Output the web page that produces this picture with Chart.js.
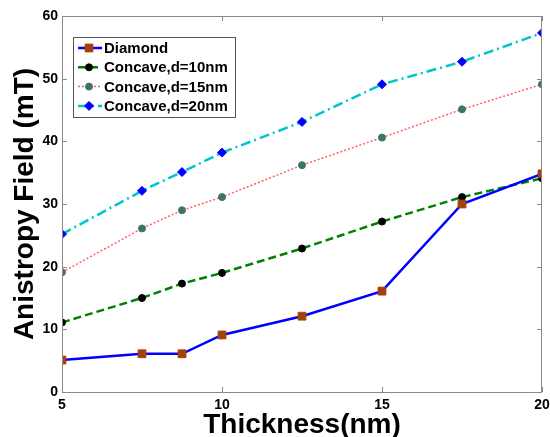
<!DOCTYPE html>
<html>
<head>
<meta charset="utf-8">
<script src="https://cdn.jsdelivr.net/npm/chart.js@4"></script>
<style>
  html, body { margin: 0; padding: 0; background: #fff; }
  canvas { display: block; }
</style>
</head>
<body>
<canvas id="chart" width="550" height="437"></canvas>
<script>
const thickness = [5, 7.5, 8.75, 10, 12.5, 15, 17.5, 20];
const diamond = [5.1, 6.1, 6.1, 9.1, 12.1, 16.1, 30.0, 34.8];
const concave10 = [11.1, 15.0, 17.3, 19.0, 22.9, 27.2, 31.1, 34.1];
const concave15 = [19.1, 26.1, 29.0, 31.1, 36.2, 40.6, 45.1, 49.1];
const concave20 = [25.2, 32.1, 35.1, 38.2, 43.1, 49.1, 52.7, 57.3];
const seriesLabels = ['Diamond', 'Concave,d=10nm', 'Concave,d=15nm', 'Concave,d=20nm'];
const xTicks = [5, 10, 15, 20];
const yTicks = [0, 10, 20, 30, 40, 50, 60];

const FONT = 'Liberation Sans, Arial, sans-serif';
const AXIS_COLOR = '#8a8a8a';

function pts(values) {
  return thickness.map((t, i) => ({ x: t, y: values[i] }));
}

// box around plot, inward tick marks on all four sides, custom legend
const framePlugin = {
  id: 'frame',
  afterDatasetsDraw(chart) {
    const { ctx, chartArea: a, scales } = chart;
    ctx.save();
    ctx.strokeStyle = AXIS_COLOR;
    ctx.lineWidth = 1;
    ctx.strokeRect(a.left + 0.5, a.top + 0.5, a.right - a.left - 1, a.bottom - a.top);
    const tl = 5;
    ctx.beginPath();
    xTicks.forEach((v) => {
      const px = Math.round(scales.x.getPixelForValue(v)) + 0.5;
      ctx.moveTo(px, a.bottom); ctx.lineTo(px, a.bottom - tl);
      ctx.moveTo(px, a.top); ctx.lineTo(px, a.top + tl);
    });
    yTicks.forEach((v) => {
      const py = Math.round(scales.y.getPixelForValue(v)) + 0.5;
      ctx.moveTo(a.left, py); ctx.lineTo(a.left + tl, py);
      ctx.moveTo(a.right, py); ctx.lineTo(a.right - tl, py);
    });
    ctx.stroke();

    // legend
    const lx = 73, ly = 37, lw = 162, lh = 80;
    ctx.fillStyle = '#fff';
    ctx.fillRect(lx, ly, lw, lh);
    ctx.strokeStyle = '#555';
    ctx.strokeRect(lx + 0.5, ly + 0.5, lw, lh);
    chart.data.datasets.forEach((ds, i) => {
      const y = ly + 11 + i * 19.3;
      ctx.save();
      ctx.strokeStyle = ds.borderColor;
      ctx.lineWidth = ds.borderWidth;
      ctx.setLineDash(ds.borderDash || []);
      ctx.beginPath();
      ctx.moveTo(lx + 5, y);
      ctx.lineTo(lx + 29, y);
      ctx.stroke();
      ctx.restore();
      ctx.save();
      ctx.fillStyle = ds.pointBackgroundColor;
      ctx.strokeStyle = ds.pointBorderColor;
      ctx.lineWidth = 1;
      Chart.helpers.drawPoint(ctx, { pointStyle: ds.pointStyle, radius: ds.pointRadius, borderWidth: 1, rotation: 0 }, lx + 16, y);
      ctx.restore();
      ctx.fillStyle = '#000';
      ctx.font = 'bold 15px ' + FONT;
      ctx.textBaseline = 'middle';
      ctx.textAlign = 'left';
      ctx.fillText(ds.label, lx + 31, y + 1);
    });
    ctx.restore();
  }
};

new Chart(document.getElementById('chart'), {
  type: 'line',
  data: {
    datasets: [
      {
        label: seriesLabels[0], data: pts(diamond),
        borderColor: '#0000ff', borderWidth: 2.5,
        pointStyle: 'rect', pointRadius: 5.5,
        pointBackgroundColor: '#a3400c', pointBorderColor: '#a3400c', pointBorderWidth: 1
      },
      {
        label: seriesLabels[1], data: pts(concave10),
        borderColor: '#008000', borderWidth: 2.5, borderDash: [8, 4],
        pointStyle: 'circle', pointRadius: 3.5,
        pointBackgroundColor: '#000', pointBorderColor: '#000', pointBorderWidth: 1
      },
      {
        label: seriesLabels[2], data: pts(concave15),
        borderColor: '#ff6060', borderWidth: 1.5, borderDash: [2, 2],
        pointStyle: 'circle', pointRadius: 3.5,
        pointBackgroundColor: '#3f7560', pointBorderColor: '#3f7560', pointBorderWidth: 1
      },
      {
        label: seriesLabels[3], data: pts(concave20),
        borderColor: '#00c4cc', borderWidth: 2.5, borderDash: [10, 4, 2, 4],
        pointStyle: 'rectRot', pointRadius: 4.5,
        pointBackgroundColor: '#0000ff', pointBorderColor: '#0000ff', pointBorderWidth: 1
      }
    ]
  },
  options: {
    responsive: false,
    animation: false,
    layout: { padding: { top: 16, right: 8, left: 0, bottom: 0 } },
    plugins: { legend: { display: false }, tooltip: { enabled: false } },
    elements: { line: { tension: 0 } },
    scales: {
      x: {
        type: 'linear', min: 5, max: 20,
        afterBuildTicks: (s) => { s.ticks = xTicks.map((v) => ({ value: v })); },
        afterFit: (s) => { s.height = 45; s.paddingLeft = 0; s.paddingRight = 0; },
        grid: { display: false, drawTicks: false },
        border: { display: false },
        ticks: { color: '#000', font: { family: FONT, size: 14, weight: 'bold' }, padding: 5 },
        title: {
          display: true, text: 'Thickness(nm)', color: '#000',
          font: { family: FONT, size: 28, weight: 'bold' }, padding: { top: 0, bottom: -5 }
        }
      },
      y: {
        min: 0, max: 60,
        afterBuildTicks: (s) => { s.ticks = yTicks.map((v) => ({ value: v })); },
        afterFit: (s) => { s.width = 62; s.paddingTop = 0; s.paddingBottom = 0; },
        grid: { display: false, drawTicks: false },
        border: { display: false },
        ticks: { color: '#000', font: { family: FONT, size: 14, weight: 'bold' }, padding: 4 },
        title: {
          display: true, text: 'Anistropy Field (mT)', color: '#000',
          font: { family: FONT, size: 28, weight: 'bold' }, padding: { top: 8, bottom: 0 }
        }
      }
    }
  },
  plugins: [framePlugin]
});
</script>
</body>
</html>
